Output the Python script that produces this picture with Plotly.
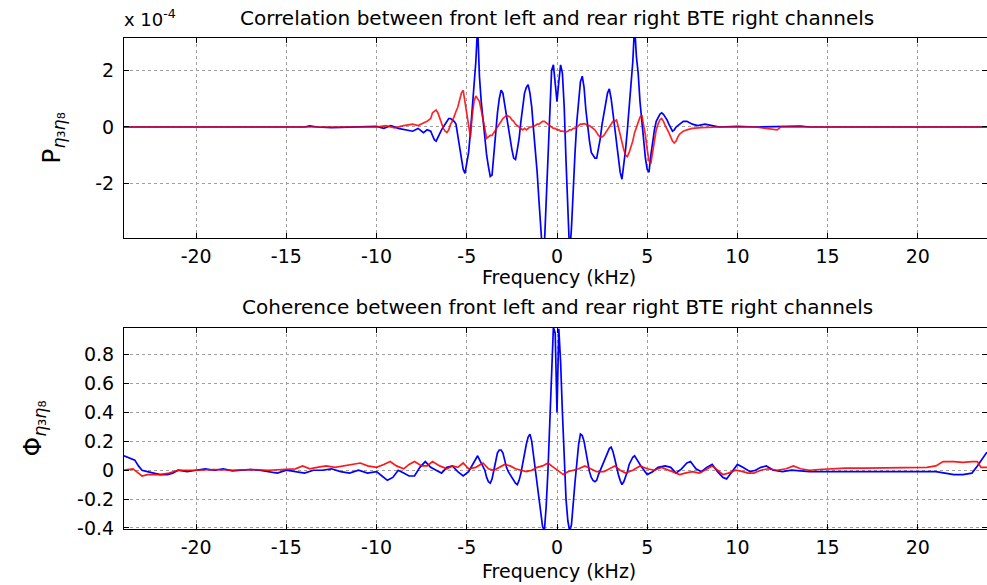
import plotly.graph_objects as go

# ---------------- DATA ----------------
# Top panel: cross-correlation spectrum P (values in units of 1e-4)
CORE_F = [round(-7.0 + 0.1 * i, 1) for i in range(141)]  # -7.0 .. 7.0 kHz

top_blue_left_f = [-24, -14, -13.7, -13.3, -12.5, -11, -10, -9.6, -9.2, -8.8, -8.4, -8.0, -7.7, -7.4, -7.2]
top_blue_left_v = [0, 0, 0.04, 0, -0.02, 0, 0.02, -0.05, 0.05, -0.05, -0.1, -0.15, -0.05, -0.2, -0.1]
top_blue_core_v = [
    -0.15, -0.3, -0.45, -0.5, -0.35, -0.2, -0.1, 0.0, 0.1, 0.2,
    0.3, 0.3, 0.25, 0.2, 0.1, -0.3, -0.7, -1.2, -1.5, -1.64,
    -1.3, -0.9, -0.2, 0.6, 1.5, 2.3, 3.6, 1.8, 0.9, 0.2,
    -0.4, -1.0, -1.4, -1.75, -1.7, -0.9, -0.2, 0.5, 1.0, 1.3,
    1.2, 0.8, 0.4, 0.0, -0.5, -0.8, -1.1, -1.15, -0.8, -0.4,
    0.2, 0.7, 1.2, 1.4, 1.5, 1.2, 0.7, -0.1, -0.8, -1.6,
    -2.6, -3.5, -4.5, -4.2, -2.6, -0.6, 1.0, 2.0, 2.2, 1.6,
    0.9,
    1.6, 2.2, 1.9, 0.7, -1.2, -3.0, -4.5, -3.6, -2.0, -0.9,
    0.2, 1.0, 1.6, 1.8, 1.4, 0.6, 0.0, -0.5, -0.9, -1.0,
    -1.1, -1.1, -0.8, -0.4, 0.1, 0.5, 0.9, 1.2, 1.35, 1.0,
    0.5, 0.0, -0.6, -1.1, -1.6, -1.85, -1.4, -0.8, -0.1, 0.6,
    1.5, 2.3, 3.6, 2.5, 1.9, 0.9, 0.2, -0.6, -1.1, -1.5,
    -1.6, -1.0, -0.5, -0.1, 0.2, 0.35, 0.45, 0.5, 0.45, 0.35,
    0.25, 0.1, -0.05, -0.15, -0.1, 0.0, 0.05, 0.1, 0.15, 0.2,
]
top_blue_right_f = [7.2, 7.5, 7.8, 8.2, 8.6, 9.0, 10, 11, 13.5, 14, 24]
top_blue_right_v = [0.2, 0.1, 0.05, 0.1, 0.05, 0.0, 0.02, 0.0, 0.03, 0, 0]

top_red_left_f = [-24, -10, -9.5, -9.0, -8.5, -8.0, -7.7, -7.4, -7.2]
top_red_left_v = [0, 0, 0.05, -0.03, 0.05, 0.1, 0.05, 0.15, 0.2]
top_red_core_v = [
    0.3, 0.5, 0.55, 0.6, 0.5, 0.3, 0.1, -0.05, -0.15, -0.2,
    -0.1, 0.1, 0.2, 0.4, 0.55, 0.7, 0.95, 1.2, 1.3, 0.9,
    0.5, 0.0, -0.35, 0.4, 0.9, 1.1, 1.0, 0.9, 0.6, 0.3,
    0.0, -0.4, -0.35, -0.3, -0.3, -0.2, -0.1, 0.0, 0.1, 0.2,
    0.3, 0.35, 0.4, 0.39, 0.35, 0.25, 0.2, 0.1, 0.05, 0.0,
    -0.05, -0.1, -0.05, -0.1, -0.05, 0.0, 0.0, 0.05, 0.05, 0.1,
    0.1, 0.15, 0.2, 0.2, 0.15, 0.1, 0.05, 0.0, -0.05, -0.05,
    -0.1,
    -0.1, -0.15, -0.15, -0.17, -0.17, -0.15, -0.1, -0.1, -0.05, -0.05,
    0.0, 0.05, 0.1, 0.1, 0.12, 0.1, 0.05, 0.05, 0.0, -0.05,
    -0.1, -0.2, -0.3, -0.35, -0.35, -0.3, -0.2, -0.1, 0.0, 0.1,
    0.2, 0.2, 0.25, 0.0, -0.3, -0.6, -0.8, -1.0, -1.05, -0.9,
    -0.7, -0.5, -0.2, 0.0, 0.2, 0.35, 0.42, 0.1, -0.3, -0.8,
    -1.2, -1.3, -0.9, -0.4, -0.1, 0.1, 0.25, 0.3, 0.2, 0.05,
    -0.05, -0.2, -0.35, -0.5, -0.57, -0.5, -0.35, -0.25, -0.2, -0.15,
]
top_red_right_f = [7.2, 7.5, 8.0, 9.0, 11.0, 12.2, 12.4, 24]
top_red_right_v = [-0.1, -0.05, -0.02, 0.0, 0.0, -0.1, 0.0, 0]

# Bottom panel: coherence Phi
bot_blue_f = [
    -24.0, -23.8, -23.6, -23.4, -23.2, -23.0, -22.7, -22.4, -22.0, -21.6, -21.3, -21.0,
    -20.5, -20.0, -19.5, -19.0, -18.5, -18.0, -17.5, -17.0, -16.5, -16.0, -15.5, -15.0,
    -14.5, -14.0, -13.5, -13.0, -12.5, -12.0, -11.5, -11.0, -10.5, -10.0, -9.7, -9.4,
    -9.1, -8.8, -8.5, -8.2, -7.9, -7.6, -7.3, -7.0, -6.7, -6.4, -6.1, -5.8, -5.5, -5.2,
    -4.9, -4.6, -4.4, -4.2,
    -4.0, -3.9, -3.8, -3.7, -3.6, -3.5, -3.4, -3.3, -3.2, -3.1, -3.0, -2.9, -2.8, -2.7,
    -2.6, -2.5, -2.4, -2.3, -2.2, -2.1, -2.0, -1.9, -1.8, -1.7, -1.6, -1.5, -1.4, -1.3,
    -1.2, -1.1, -1.0, -0.9, -0.8, -0.7, -0.6, -0.5, -0.4, -0.3, -0.2, -0.1, 0.0, 0.1,
    0.2, 0.3, 0.4, 0.5, 0.6, 0.7, 0.8, 0.9, 1.0, 1.1, 1.2, 1.3, 1.4, 1.5, 1.6, 1.7,
    1.8, 1.9, 2.0, 2.1, 2.2, 2.3, 2.4, 2.5, 2.6, 2.7, 2.8, 2.9, 3.0, 3.1, 3.2, 3.3,
    3.4, 3.5, 3.6, 3.7, 3.8, 3.9, 4.0,
    4.2, 4.3, 4.5, 4.7, 5.0, 5.3, 5.6, 6.0, 6.3, 6.6, 6.9, 7.2, 7.4, 7.7, 8.0, 8.3,
    8.6, 8.9, 9.2, 9.4, 9.7, 10.0, 10.3, 10.7, 11.0, 11.3, 11.6, 12.0, 12.5, 13.0, 13.5,
    14.0, 15.0, 16.0, 17.0, 18.0, 19.0, 20.0, 21.0, 21.5, 22.0, 22.5, 23.0, 23.3, 23.6,
    23.8, 24.0,
]
bot_blue_v = [
    0.10, 0.09, 0.08, 0.07, 0.03, 0.0, -0.01, -0.02, -0.03, -0.03, -0.02, 0.0,
    -0.01, 0.0, 0.01, 0.0, 0.01, -0.005, 0.0, 0.005, 0.0, -0.01, -0.02, 0.0,
    -0.01, -0.02, 0.0, 0.0, 0.01, -0.01, -0.02, 0.0, -0.02, -0.01, -0.04, -0.07,
    -0.05, 0.0, -0.02, -0.04, -0.04, 0.02, 0.06, 0.02, 0.0, -0.02, 0.02, 0.03, -0.01, -0.04,
    -0.01, 0.06, 0.10, 0.05,
    0.0, -0.05, -0.08, -0.09, -0.06, 0.0, 0.07, 0.12, 0.14, 0.14, 0.12, 0.06, 0.02, -0.01,
    -0.03, -0.05, -0.07, -0.09, -0.10, -0.07, -0.02, 0.05, 0.12, 0.18, 0.23, 0.25, 0.20, 0.10,
    0.0, -0.08, -0.2, -0.3, -0.39, -0.42, -0.25, 0.0, 0.36, 0.70, 0.99, 0.95, 0.40, 0.98,
    0.75, 0.40, 0.05, -0.20, -0.35, -0.42, -0.38, -0.20, -0.08, 0.05, 0.18, 0.25, 0.24, 0.20, 0.12, 0.05,
    -0.01, -0.05, -0.07, -0.08, -0.07, -0.03, 0.0, 0.03, 0.06, 0.09, 0.12, 0.15, 0.16, 0.13, 0.08, 0.02,
    -0.03, -0.07, -0.10, -0.08, -0.05, -0.01, 0.04,
    0.09, 0.10, 0.06, 0.02, -0.03, -0.01, 0.02, 0.03, 0.02, -0.02, 0.01, 0.05, 0.06, 0.01, -0.01, 0.02,
    0.04, -0.01, -0.05, -0.06, -0.01, 0.04, 0.02, -0.01, 0.0, 0.02, 0.03, 0.0, -0.01, 0.0, -0.005,
    -0.01, -0.01, -0.01, -0.01, -0.01, -0.005, -0.01, -0.01, -0.02, -0.03, -0.03, -0.02, 0.03, 0.08,
    0.12, 0.13,
]

bot_red_f = [
    -24.0, -23.5, -23.2, -23.0, -22.7, -22.3, -22.0, -21.5, -21.0, -20.0, -19.0, -18.0,
    -17.0, -16.0, -15.0, -14.5, -14.1, -13.7, -13.3, -12.8, -12.3, -11.8, -11.3, -10.9,
    -10.5, -10.0, -9.6, -9.25, -8.9, -8.5, -8.2, -7.9, -7.5, -7.2, -6.9, -6.5, -6.1, -5.8,
    -5.5, -5.2, -4.9, -4.5, -4.1, -3.8, -3.5, -3.2, -2.9, -2.6, -2.3, -2.0, -1.7, -1.4,
    -1.1, -0.8, -0.5, -0.3, 0.0, 0.2, 0.35, 0.6, 0.9, 1.2, 1.55, 1.9, 2.2, 2.6, 2.9, 3.2,
    3.5, 3.8, 4.2, 4.6, 5.0, 5.4, 5.8, 6.2, 6.5, 6.8, 7.1, 7.5, 7.9, 8.2, 8.6, 8.9, 9.2,
    9.5, 9.9, 10.3, 10.6, 10.9, 11.3, 11.7, 12.2, 12.7, 13.1, 13.5, 14.0, 14.5, 15.0,
    16.0, 17.0, 18.0, 19.0, 20.0, 20.5, 21.0, 21.4, 22.0, 22.5, 23.0, 23.3, 23.5, 24.0,
]
bot_red_v = [
    0.0, 0.01, -0.02, -0.04, -0.03, -0.03, -0.03, -0.02, 0.0, 0.0, 0.005, 0.0,
    0.005, 0.0, 0.005, 0.01, 0.03, 0.01, 0.02, 0.03, 0.02, 0.03, 0.04, 0.05,
    0.03, 0.02, 0.04, 0.06, 0.03, 0.01, 0.04, 0.06, 0.03, 0.03, 0.06, 0.03, 0.01, 0.03,
    0.02, 0.05, 0.01, 0.02, 0.05, 0.01, 0.0, 0.02, 0.04, 0.03, 0.01, 0.0, -0.01, 0.0,
    0.02, 0.03, 0.05, 0.03, 0.0, -0.02, -0.03, -0.01, 0.0, 0.01, 0.03, 0.01, -0.01, -0.01, 0.01, 0.03,
    0.0, -0.02, 0.0, 0.03, 0.01, 0.0, 0.02, 0.0, -0.02, -0.03, -0.02, -0.01, -0.02, 0.0, 0.03, 0.0, -0.03,
    -0.02, 0.0, -0.01, -0.02, -0.02, 0.0, 0.01, 0.0, 0.01, 0.03, 0.01, 0.0, 0.005, 0.01,
    0.015, 0.015, 0.015, 0.015, 0.02, 0.02, 0.03, 0.06, 0.06, 0.055, 0.06, 0.06, 0.02, 0.02,
]

X_TICKS = [-20, -15, -10, -5, 0, 5, 10, 15, 20]
X_TICK_TEXT = ["-20", "-15", "-10", "-5", "0", "5", "10", "15", "20"]
Y1_TICKS = [-2, 0, 2]
Y1_TICK_TEXT = ["-2", "0", "2"]
Y2_TICKS = [-0.4, -0.2, 0, 0.2, 0.4, 0.6, 0.8]
Y2_TICK_TEXT = ["-0.4", "-0.2", "0", "0.2", "0.4", "0.6", "0.8"]

TITLE_TOP = "Correlation between front left and rear right BTE right channels"
TITLE_BOT = "Coherence between front left and rear right BTE right channels"
XLABEL = "Frequency (kHz)"
YLABEL_TOP = "P<sub><i>η</i>₃<i>η</i>₈</sub>"
YLABEL_BOT = "Φ<sub><i>η</i>₃<i>η</i>₈</sub>"

# ---------------- FIGURE ----------------
W, H = 987, 585
FONT = "DejaVu Sans"
BLUE = "#0000ff"
RED = "#ff0000"


def px(x):
    return x / W


def py(y):
    return 1 - y / H


top_blue_f = top_blue_left_f + CORE_F + top_blue_right_f
top_blue_v = top_blue_left_v + top_blue_core_v + top_blue_right_v
top_red_f = top_red_left_f + CORE_F + top_red_right_f
top_red_v = top_red_left_v + top_red_core_v + top_red_right_v

fig = go.Figure()
fig.add_trace(go.Scatter(x=top_blue_f, y=top_blue_v, mode="lines",
                         line=dict(color=BLUE, width=1.7), xaxis="x", yaxis="y"))
fig.add_trace(go.Scatter(x=top_red_f, y=top_red_v, mode="lines",
                         line=dict(color=RED, width=1.7), opacity=0.85, xaxis="x", yaxis="y"))
fig.add_trace(go.Scatter(x=bot_blue_f, y=bot_blue_v, mode="lines",
                         line=dict(color=BLUE, width=1.7), xaxis="x2", yaxis="y2"))
fig.add_trace(go.Scatter(x=bot_red_f, y=bot_red_v, mode="lines",
                         line=dict(color=RED, width=1.7), opacity=0.9, xaxis="x2", yaxis="y2"))

x_range = [-24, -24 + (W - 124) / (866 / 48)]
common_axis = dict(
    showline=True, linecolor="black", linewidth=1, mirror="allticks",
    ticks="inside", ticklen=5, tickcolor="black", tickwidth=1,
    showgrid=True, gridcolor="#a0a0a0", griddash="dot", gridwidth=1,
    zeroline=False, tickfont=dict(family=FONT, size=19, color="black"),
)
ylab_font = dict(family=FONT, size=25, color="black")

fig.update_layout(
    width=W, height=H,
    margin=dict(l=0, r=0, t=0, b=0, autoexpand=False),
    paper_bgcolor="white", plot_bgcolor="white",
    showlegend=False,
    xaxis=dict(domain=[px(124), 1.0], anchor="y", range=x_range,
               tickvals=X_TICKS, ticktext=X_TICK_TEXT, ticklabelstandoff=1, **common_axis),
    yaxis=dict(domain=[py(238), py(38)], anchor="x", range=[-3.93, 3.15],
               tickvals=Y1_TICKS, ticktext=Y1_TICK_TEXT, ticklabelstandoff=5,
               title=dict(text=YLABEL_TOP, font=ylab_font, standoff=27), **common_axis),
    xaxis2=dict(domain=[px(124), 1.0], anchor="y2", range=x_range,
                tickvals=X_TICKS, ticktext=X_TICK_TEXT, ticklabelstandoff=1, **common_axis),
    yaxis2=dict(domain=[py(529), py(328)], anchor="x2", range=[-0.407, 0.985],
                tickvals=Y2_TICKS, ticktext=Y2_TICK_TEXT, ticklabelstandoff=5,
                title=dict(text=YLABEL_BOT, font=ylab_font, standoff=28), **common_axis),
)

title_font = dict(family=FONT, size=20, color="black")
label_font = dict(family=FONT, size=19, color="black")
ann = [
    dict(x=px(557), y=py(18), text=TITLE_TOP, font=title_font),
    dict(x=px(122), y=py(18), text="x 10<sup>-4</sup>", font=dict(family=FONT, size=18, color="black"),
         xanchor="left"),
    dict(x=px(557), y=py(307), text=TITLE_BOT, font=title_font),
    dict(x=px(559), y=py(277), text=XLABEL, font=label_font),
    dict(x=px(559), y=py(571), text=XLABEL, font=label_font),
]
for a in ann:
    a.setdefault("xanchor", "center")
    fig.add_annotation(xref="paper", yref="paper", showarrow=False, yanchor="middle", **a)

fig.write_html("out.html")
